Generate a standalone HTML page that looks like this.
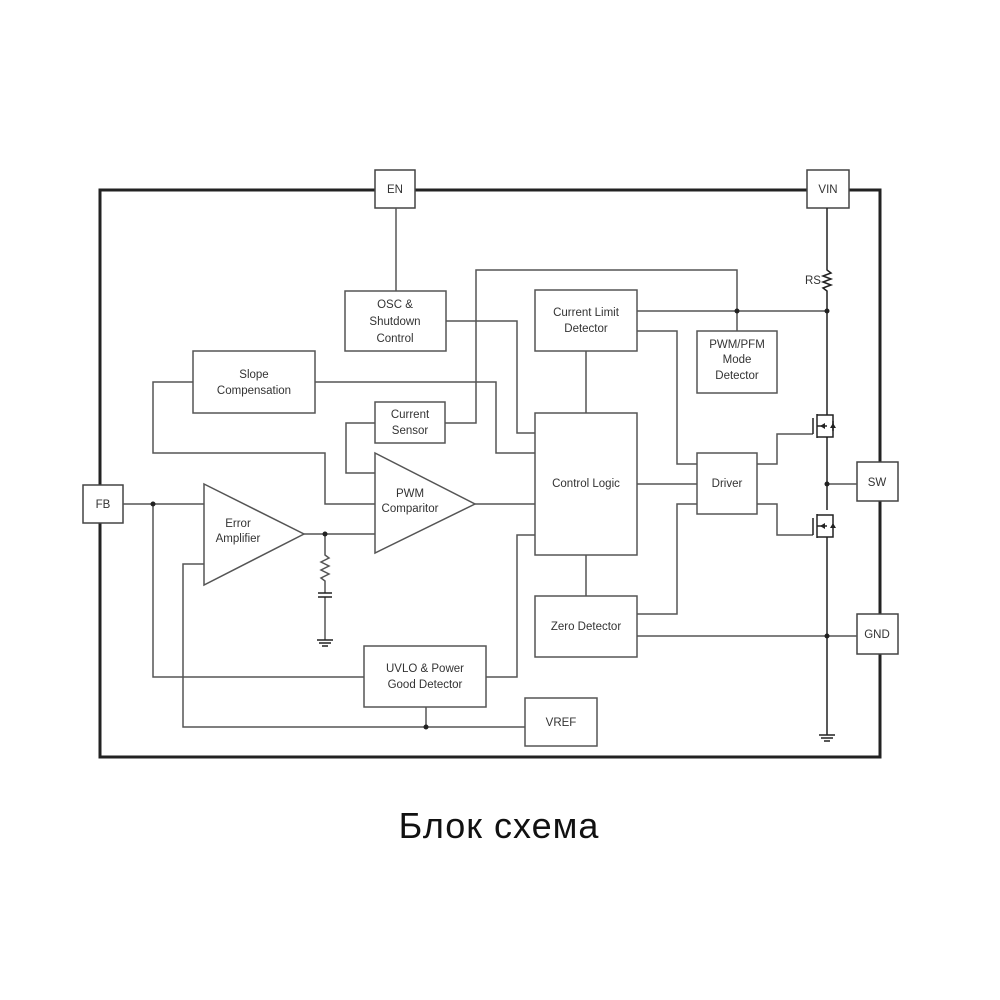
<!DOCTYPE html>
<html><head><meta charset="utf-8"><style>
html,body{margin:0;padding:0;background:#fff;}
svg{display:block}
text{font-family:"Liberation Sans",sans-serif;font-size:11.5px;fill:#333;text-anchor:middle}
</style></head><body>
<svg width="1000" height="1000" viewBox="0 0 1000 1000" xmlns="http://www.w3.org/2000/svg">
<g fill="none" stroke="#222">
<rect x="100" y="190" width="780" height="567" stroke-width="3"/>
</g>
<g fill="#fff" stroke="#444" stroke-width="1.5">
<rect x="375" y="170" width="40" height="38"/>
<rect x="807" y="170" width="42" height="38"/>
<rect x="83" y="485" width="40" height="38"/>
<rect x="857" y="462" width="41" height="39"/>
<rect x="857" y="614" width="41" height="40"/>
</g>
<g fill="none" stroke="#555" stroke-width="1.5">
<path d="M396 208V291"/>
<path d="M445 423H476V270H737V331"/>
<path d="M637 311H827"/>
<path d="M446 321H517V433H537"/>
<path d="M315 382H496V453H537"/>
<path d="M193 382H153V453H325V504H375"/>
<path d="M375 423H346V473H375"/>
<path d="M475 504H537"/>
<path d="M123 504H204"/>
<path d="M153 504V677H364"/>
<path d="M486 677H517V535H537"/>
<path d="M304 534H375"/>
<path d="M325 534V555 l4 3 -8 4 8 4 -8 4 8 4 -8 4 4 3V593"/>
<path d="M325 597V640"/>
<path d="M204 564H183V727H527"/>
<path d="M426 727V707"/>
<path d="M586 351V413M586 555V596"/>
<path d="M637 331H677V464H697"/>
<path d="M637 484H697"/>
<path d="M697 504H677V614H637"/>
<path d="M637 636H857"/>
<path d="M757 464H777V434H813"/>
<path d="M757 504H777V535H813"/>
<path d="M827 484H857"/>
</g>
<g fill="none" stroke="#222" stroke-width="1.5">
<path d="M827 208V270 l4 3 -8 3 8 3 -8 3 8 3 -8 3 4 3V413"/>
<path d="M827 437V510M827 537V735"/>
<path d="M819 735H835M821 738H833M824 741H830"/>
<path d="M317 640H333M319 643H331M322 646H328"/>
<path d="M318 593H332M318 597H332"/>
<path d="M813 434V418M817 414V438M817 415H833V437H817M827 413V415M827 437V438M817 426H827"/>
<path d="M833 421V431"/>
<path d="M813 535V518M817 514V538M817 515H833V537H817M817 526H827"/>
</g>
<g fill="#222">
<path d="M820 426l5-3v6z"/><path d="M833 423l-3 5h6z"/>
<path d="M820 526l5-3v6z"/><path d="M833 523l-3 5h6z"/>
<circle cx="153" cy="504" r="2.5"/><circle cx="325" cy="534" r="2.5"/>
<circle cx="426" cy="727" r="2.5"/><circle cx="737" cy="311" r="2.5"/>
<circle cx="827" cy="311" r="2.5"/><circle cx="827" cy="484" r="2.5"/>
<circle cx="827" cy="636" r="2.5"/>
</g>
<g fill="#fff" stroke="#555" stroke-width="1.5">
<rect x="345" y="291" width="101" height="60"/>
<rect x="193" y="351" width="122" height="62"/>
<rect x="375" y="402" width="70" height="41"/>
<rect x="364" y="646" width="122" height="61"/>
<rect x="525" y="698" width="72" height="48"/>
<rect x="535" y="290" width="102" height="61"/>
<rect x="697" y="331" width="80" height="62"/>
<rect x="535" y="413" width="102" height="142"/>
<rect x="535" y="596" width="102" height="61"/>
<rect x="697" y="453" width="60" height="61"/>
<path d="M375 453L475 504L375 553Z"/>
<path d="M204 484L304 534L204 585Z"/>
</g>
<text x="395" y="193">EN</text>
<text x="828" y="193">VIN</text>
<text x="103" y="508">FB</text>
<text x="877" y="486">SW</text>
<text x="877" y="638">GND</text>
<text x="813" y="284">RS</text>
<text x="395" y="308">OSC &amp;</text><text x="395" y="325">Shutdown</text><text x="395" y="342">Control</text>
<text x="254" y="378">Slope</text><text x="254" y="394">Compensation</text>
<text x="410" y="418">Current</text><text x="410" y="434">Sensor</text>
<text x="410" y="497">PWM</text><text x="410" y="512">Comparitor</text>
<text x="238" y="527">Error</text><text x="238" y="542">Amplifier</text>
<text x="425" y="672">UVLO &amp; Power</text><text x="425" y="688">Good Detector</text>
<text x="561" y="726">VREF</text>
<text x="586" y="316">Current Limit</text><text x="586" y="332">Detector</text>
<text x="737" y="348">PWM/PFM</text><text x="737" y="363">Mode</text><text x="737" y="379">Detector</text>
<text x="586" y="487">Control Logic</text>
<text x="727" y="487">Driver</text>
<text x="586" y="630">Zero Detector</text>
<text x="499" y="838" style="font-size:36px;fill:#111;letter-spacing:1px;font-weight:500">Блок схема</text>
</svg>
</body></html>
